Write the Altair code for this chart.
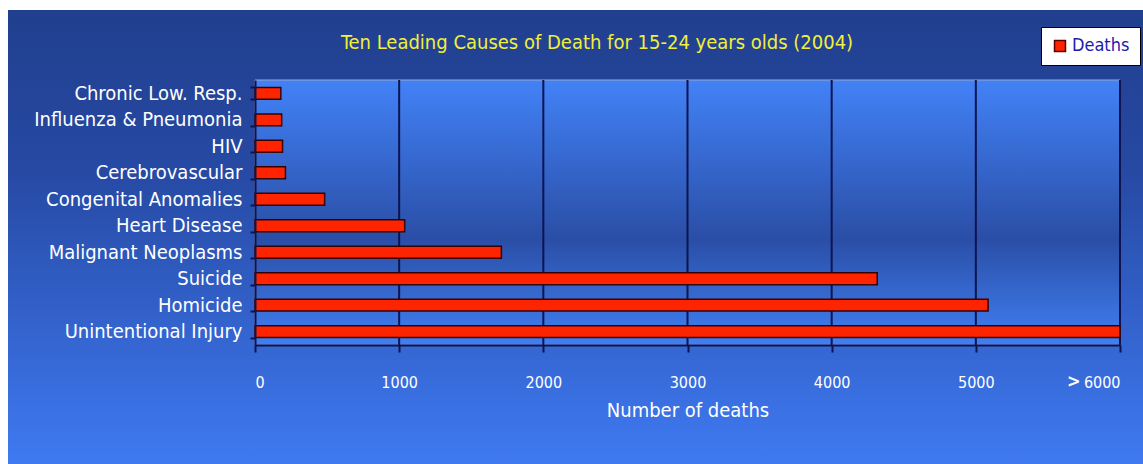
import altair as alt
import pandas as pd

causes = ["Chronic Low. Resp.", "Influenza & Pneumonia", "HIV", "Cerebrovascular",
          "Congenital Anomalies", "Heart Disease", "Malignant Neoplasms", "Suicide",
          "Homicide", "Unintentional Injury"]
deaths = [179, 185, 191, 211, 483, 1038, 1709, 4316, 5085, 15449]
series = ["Deaths"] * len(causes)
x_ticks = [0, 1000, 2000, 3000, 4000, 5000, 6000]
grid_vals = [1000, 2000, 3000, 4000, 5000, 6000]
title_text = "Ten Leading Causes of Death for 15-24 years olds (2004)"
x_title = "Number of deaths"

FONT = "Liberation Sans Narrow, DejaVu Sans Condensed, Liberation Sans, sans-serif"
W, H = 865, 265

df = pd.DataFrame({"cause": causes, "deaths": deaths, "series": series})

xscale = alt.Scale(domain=[0, 6000], clamp=True, nice=False)

one = alt.Data(values=[{"a": 1}])

outer_bg = alt.Chart(one).mark_rect(
    fill=alt.Gradient(gradient="linear", x1=0, y1=0, x2=0, y2=1,
                      stops=[alt.GradientStop(offset=0, color="#213f8e"),
                             alt.GradientStop(offset=0.35, color="#2649a3"),
                             alt.GradientStop(offset=1, color="#3f7af2")])
).encode(x=alt.value(-247), x2=alt.value(W + 23), y=alt.value(-70), y2=alt.value(H + 119))

plot_bg = alt.Chart(one).mark_rect(
    fill=alt.Gradient(gradient="linear", x1=0, y1=0, x2=0, y2=1,
                      stops=[alt.GradientStop(offset=0, color="#4282f7"),
                             alt.GradientStop(offset=0.6, color="#2a4ea6"),
                             alt.GradientStop(offset=1, color="#4080f4")]),
    stroke="#9aa6c8", strokeWidth=1
).encode(x=alt.value(0), x2=alt.value(W), y=alt.value(0), y2=alt.value(H))

grid = alt.Chart(pd.DataFrame({"g": grid_vals})).mark_rule(
    color="#0d1450", strokeWidth=2
).encode(x=alt.X("g:Q", scale=xscale))

bars = alt.Chart(df).mark_bar(stroke="#3a0000", strokeWidth=1.5).encode(
    y=alt.Y("cause:N", sort=causes,
            scale=alt.Scale(paddingInner=0.55, paddingOuter=0.28),
            axis=alt.Axis(title=None, labelColor="white", labelFontSize=20, labelFont=FONT,
                          labelLimit=400,
                          domainColor="#0d1450", domainWidth=2, tickColor="#0d1450",
                          tickWidth=2, tickSize=5, labelPadding=8, tickBand="extent",
                          zindex=1)),
    x=alt.X("deaths:Q", scale=xscale,
            axis=alt.Axis(title=x_title, values=x_ticks, format="d", grid=False,
                          labelColor="white", labelFontSize=16, labelFont=FONT,
                          labelPadding=22,
                          titleColor="white", titleFontSize=20, titleFont=FONT,
                          titleFontWeight="normal", titlePadding=10,
                          domainColor="#0d1450", domainWidth=2, tickColor="#0d1450",
                          tickWidth=2, tickSize=7, zindex=1)),
    color=alt.Color("series:N", scale=alt.Scale(domain=["Deaths"], range=["#ff2400"]),
                    legend=alt.Legend(title=None, orient="none", legendX=786, legendY=-53,
                                      fillColor="white", strokeColor="black", padding=10,
                                      symbolType="square", symbolSize=120,
                                      symbolStrokeColor="#5a0000", symbolStrokeWidth=1.5,
                                      labelColor="#1c1ca8", labelFontSize=18, labelFont=FONT,
                                      labelOffset=3, zindex=1))
)

title = alt.Chart(pd.DataFrame({"t": [title_text]})).mark_text(
    color="#f0f03a", fontSize=20, font=FONT, baseline="middle", align="center"
).encode(text="t:N", x=alt.value(342), y=alt.value(-37))

more = alt.Chart(pd.DataFrame({"v": [5680], "s": [">"]})).mark_text(
    color="white", fontSize=18, font=FONT, fontWeight="bold", baseline="middle"
).encode(x=alt.X("v:Q", scale=xscale), y=alt.value(H + 37), text="s:N")

chart = alt.layer(outer_bg, plot_bg, grid, bars, title, more).properties(
    width=W, height=H,
    padding={"left": 8, "top": 10, "right": 0, "bottom": 0},
    background="white"
).configure_view(stroke=None)

chart.save("out.html", embed_options={"renderer": "svg", "actions": False})
